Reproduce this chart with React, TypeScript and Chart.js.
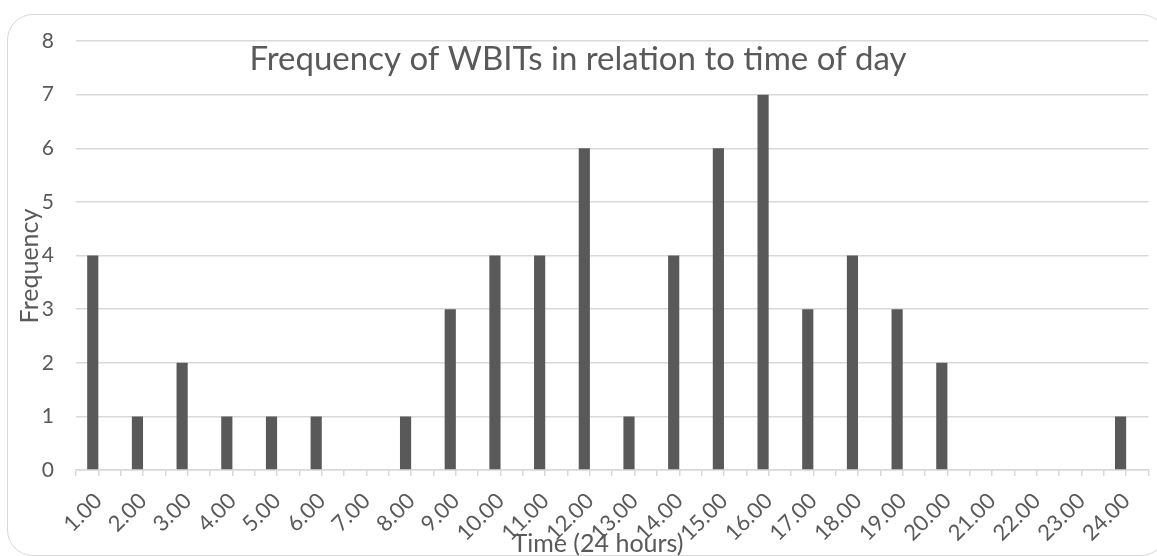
import React, { useEffect, useRef } from "react";
import { Chart, registerables } from "chart.js";

Chart.register(...registerables);

const TITLE = "Frequency of WBITs in relation to time of day";
const X_TITLE = "Time (24 hours)";
const Y_TITLE = "Frequency";

const hours: string[] = [
  "1.00", "2.00", "3.00", "4.00", "5.00", "6.00", "7.00", "8.00",
  "9.00", "10.00", "11.00", "12.00", "13.00", "14.00", "15.00", "16.00",
  "17.00", "18.00", "19.00", "20.00", "21.00", "22.00", "23.00", "24.00",
];
const frequency: number[] = [
  4, 1, 2, 1, 1, 1, 0, 1, 3, 4, 4, 6, 1, 4, 6, 7, 3, 4, 3, 2, 0, 0, 0, 1,
];
const emptySeries: number[] = [];
const yMin = 0;
const yMax = 8;
const yStep = 1;

const TEXT = "#595959";
const GRID = "#d9d9d9";
const BAR = "#595959";
const FONT = "Lato";

const chartTexts = {
  id: "chartTexts",
  afterDraw(chart: any) {
    const ctx = chart.ctx;
    ctx.save();
    ctx.fillStyle = TEXT;
    ctx.textAlign = "center";
    ctx.textBaseline = "alphabetic";
    ctx.font = `33px ${FONT}`;
    ctx.fillText(TITLE, 578, 70);
    ctx.font = `25px ${FONT}`;
    ctx.fillText(X_TITLE, 598, 552);
    ctx.translate(38, 266);
    ctx.rotate(-Math.PI / 2);
    ctx.fillText(Y_TITLE, 0, 0);
    ctx.restore();
  },
};

export default function App() {
  const canvasRef = useRef<HTMLCanvasElement | null>(null);

  useEffect(() => {
    if (!canvasRef.current) return;
    const chart = new Chart(canvasRef.current, {
      type: "bar",
      data: {
        labels: hours,
        datasets: [
          {
            label: "Frequency",
            data: frequency,
            backgroundColor: BAR,
            borderWidth: 0,
            categoryPercentage: 0.5,
            barPercentage: 1,
          },
          {
            label: "",
            data: emptySeries,
            backgroundColor: BAR,
            borderWidth: 0,
            categoryPercentage: 0.5,
            barPercentage: 1,
          },
        ],
      },
      options: {
        responsive: false,
        animation: false,
        devicePixelRatio: 1,
        layout: { padding: { left: 0, right: 7, top: 41, bottom: 0 } },
        plugins: {
          legend: { display: false },
          title: { display: false },
          tooltip: { enabled: false },
        },
        scales: {
          x: {
            type: "category",
            position: "bottom",
            weight: 1,
            offset: true,
            grid: {
              offset: true,
              drawOnChartArea: false,
              drawTicks: true,
              tickLength: 6,
              color: GRID,
              lineWidth: 1.5,
            },
            border: { display: true, color: GRID, width: 1.5 },
            ticks: {
              autoSkip: false,
              minRotation: 45,
              maxRotation: 45,
              padding: 12,
              color: TEXT,
              font: { family: FONT, size: 22 },
            },
            afterFit(scale: any) {
              scale.height = 86;
            },
          },
          x2: {
            type: "category",
            position: "bottom",
            weight: 0,
            offset: true,
            grid: {
              offset: false,
              drawOnChartArea: false,
              drawTicks: true,
              tickLength: 6,
              color: GRID,
              lineWidth: 1.5,
            },
            border: { display: false },
            ticks: { display: false },
            afterFit(scale: any) {
              scale.height = 0;
            },
          },
          y: {
            type: "linear",
            min: yMin,
            max: yMax,
            ticks: {
              stepSize: yStep,
              padding: 22,
              color: TEXT,
              font: { family: FONT, size: 21 },
            },
            grid: {
              color: GRID,
              lineWidth: 1.5,
              drawTicks: false,
            },
            border: { display: false },
            afterFit(scale: any) {
              scale.width = 76;
            },
          },
        },
      },
      plugins: [chartTexts],
    });
    return () => chart.destroy();
  }, []);

  return (
    <div
      style={{
        position: "fixed",
        left: 0,
        top: 0,
        width: 1157,
        height: 556,
        overflow: "hidden",
        background: "#ffffff",
      }}
    >
      <div
        style={{
          position: "absolute",
          left: 7,
          top: 14,
          width: 1160,
          height: 542,
          border: `1.5px solid ${GRID}`,
          borderRadius: 26,
          boxSizing: "border-box",
        }}
      />
      <canvas
        ref={canvasRef}
        width={1157}
        height={556}
        style={{ position: "absolute", left: 0, top: 0, width: 1157, height: 556 }}
      />
    </div>
  );
}
